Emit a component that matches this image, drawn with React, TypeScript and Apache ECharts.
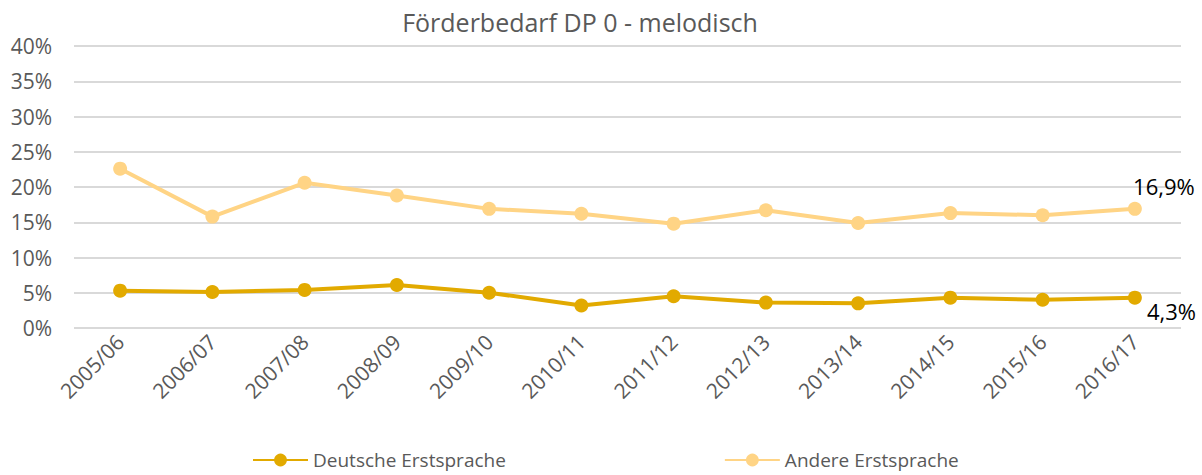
import React, { useEffect, useRef } from "react";
import * as echarts from "echarts";

const categories = ["2005/06", "2006/07", "2007/08", "2008/09", "2009/10", "2010/11", "2011/12", "2012/13", "2013/14", "2014/15", "2015/16", "2016/17"];
const deutsche = [5.3, 5.1, 5.4, 6.1, 5.0, 3.2, 4.5, 3.6, 3.5, 4.3, 4.0, 4.3];
const andere = [22.6, 15.8, 20.6, 18.8, 16.9, 16.2, 14.8, 16.7, 14.9, 16.3, 16.0, 16.9];
const yTicks = [0, 5, 10, 15, 20, 25, 30, 35, 40];

const FONT = "'Open Sans', 'Noto Sans', sans-serif";
const GREY = "#595959";

export default function App() {
  const ref = useRef<HTMLDivElement>(null);
  useEffect(() => {
    if (!ref.current) return;
    document.body.style.margin = "0";
    const chart = echarts.init(ref.current, null, { renderer: "svg" });
    const lastLabel = (pos: string, offset: number[]) => ({
      show: true,
      position: pos,
      offset,
      formatter: (p: any) => (p.dataIndex === categories.length - 1 ? String(p.value).replace(".", ",") + "%" : ""),
      fontFamily: FONT,
      fontSize: 22,
      color: "#000",
    });
    chart.setOption({
      animation: false,
      title: {
        text: "Förderbedarf DP 0 - melodisch",
        left: 575,
        textAlign: "center",
        top: 4,
        textStyle: { fontFamily: FONT, fontSize: 25, fontWeight: "normal", color: GREY },
      },
      grid: { left: 74, right: 21, top: 46, bottom: 147, containLabel: false },
      legend: {
        top: 444,
        left: 247,
        itemGap: 218,
        itemWidth: 55,
        itemHeight: 16,
        textStyle: { fontFamily: FONT, fontSize: 19, color: GREY, lineHeight: 22 },
        data: ["Deutsche Erstsprache", "Andere Erstsprache"],
      },
      xAxis: {
        type: "category",
        data: categories,
        boundaryGap: true,
        axisLine: { show: false },
        axisTick: { show: false },
        axisLabel: { rotate: 45, fontFamily: FONT, fontSize: 21, color: GREY, margin: 10, interval: 0 },
      },
      yAxis: {
        type: "value",
        min: yTicks[0],
        max: yTicks[yTicks.length - 1],
        interval: 5,
        axisLine: { show: false },
        axisTick: { show: false },
        axisLabel: { formatter: (v: number) => v + "%", fontFamily: FONT, fontSize: 21, color: GREY, margin: 22 },
        splitLine: { lineStyle: { color: "#D9D9D9", width: 2 } },
      },
      series: [
        {
          name: "Deutsche Erstsprache",
          type: "line",
          data: deutsche,
          symbol: "circle",
          symbolSize: 14,
          lineStyle: { color: "#E2AA00", width: 4 },
          itemStyle: { color: "#E2AA00" },
          label: lastLabel("right", [0, 13]),
        },
        {
          name: "Andere Erstsprache",
          type: "line",
          data: andere,
          symbol: "circle",
          symbolSize: 14,
          lineStyle: { color: "#FFD485", width: 4 },
          itemStyle: { color: "#FFD485" },
          label: lastLabel("top", [29, 0]),
        },
      ],
    });
    return () => chart.dispose();
  }, []);
  return <div ref={ref} style={{ width: 1202, height: 475 }} />;
}
